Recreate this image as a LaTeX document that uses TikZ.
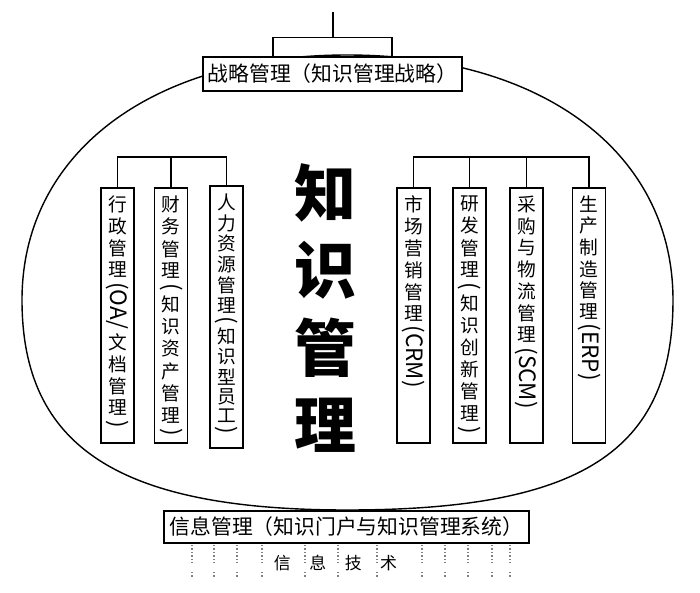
\documentclass[tikz,border=0pt]{standalone}
\usepackage{fontspec}
\setmainfont{Noto Sans CJK SC}
\usepackage{graphicx}
\usepackage{tikz}
\usetikzlibrary{calc}

\newcommand{\hx}[1]{\rotatebox{-90}{\fontsize{16pt}{16pt}\selectfont #1}}
\newcommand{\shu}[3]{\parbox[c][#1][s]{0.83cm}{\centering\fontsize{13.3pt}{13.3pt}\selectfont
  \baselineskip=0pt\lineskip=0pt plus 1fil\lineskiplimit=0pt\vspace*{0.2cm}#3\par\vspace*{#2}}}

\begin{document}
\begin{tikzpicture}[x=0.025cm, y=-0.025cm,
  kuang/.style={draw, line width=1.1pt, fill=white, inner sep=0pt, font=\fontsize{14.8pt}{14.8pt}\selectfont},
  tiao/.style={draw, line width=1.1pt, fill=white, inner sep=0pt, anchor=north},
  lian/.style={line width=1pt},
  dianxian/.style={gray, line width=1.1pt, dash pattern=on 1pt off 1.4pt}]
            \useasboundingbox (0,0) rectangle (700,593);
            % the big round
            \draw [line width=1pt] (22,300) .. controls (22,153) and (152,55) .. (347,55)
                .. controls (543,55) and (673,153) .. (673,300)
                .. controls (673,452) and (580,510) .. (347,510)
                .. controls (119,510) and (22,447) .. (22,300);
            \node[kuang, minimum width=6.475cm, minimum height=0.85cm] (zl) at (332.5,74) {战略管理（知识管理战略）};
            \node[kuang, minimum width=9.125cm, minimum height=0.8cm] (xx) at (346.5,527) {信息管理（知识门户与知识管理系统）};
            \coordinate (ding) at (333,12);
            \draw [lian] (ding) -- ++(0,26);
            \draw [lian] ($(zl.north)+(-59.5,0)$) -- ++(0,-19) -- ++(119,0) -- ++(0,19);
            % left
            \node[tiao] (xz) at (117.5,187) {\shu{6.375cm}{0.375cm}{行\\政\\管\\理\\\hx{(OA/}\\文\\档\\管\\理\\\hx{)}}};
            \node[tiao] (cw) at (171,187) {\shu{6.375cm}{0.175cm}{财\\务\\管\\理\\\hx{(}\\知\\识\\资\\产\\管\\理\\\hx{)}}};
            \node[tiao] (rl) at (226.5,185) {\shu{6.55cm}{0.35cm}{人\\力\\资\\源\\管\\理\\\hx{(}\\知\\识\\型\\员\\工\\\hx{)}}};
            \draw [lian] (xz.north) |- ($(rl.north)+(0,-28)$) -- (rl.north);
            \draw [lian] (cw.north) -- ++(0,-30);
            % right
            \node[tiao] (sc) at (413.5,187) {\shu{6.375cm}{1.375cm}{市\\场\\营\\销\\管\\理\\\hx{(CRM)}}};
            \node[tiao] (yf) at (469.5,187) {\shu{6.375cm}{0.225cm}{研\\发\\管\\理\\\hx{(}\\知\\识\\创\\新\\管\\理\\\hx{)}}};
            \node[tiao] (cg) at (526.5,187) {\shu{6.375cm}{0.85cm}{采\\购\\与\\物\\流\\管\\理\\\hx{(SCM)}}};
            \node[tiao] (sz) at (589,187) {\shu{6.375cm}{1.55cm}{生\\产\\制\\造\\管\\理\\\hx{(ERP)}}};
            \draw [lian] (sc.north) |- ($(sz.north)+(0,-30)$) -- (sz.north);
            \draw [lian] (yf.north) -- ++(0,-30);
            \draw [lian] (cg.north) -- ++(0,-30);
            % middle
            \node[font=\fontsize{44pt}{55pt}\selectfont\bfseries, align=center] (zs) at (325,308) {知\\识\\管\\理};
            % bottom
            \node[font=\fontsize{12pt}{12pt}\selectfont] (js) at (335.5,563) {信\hspace{1.1em}息\hspace{1.1em}技\hspace{1.1em}术};
            \foreach \x in {192,214,237,262,305,338,377,422,445,468,492,510}
            {\draw [dianxian] (\x,545) -- (\x,563);
             \draw [dianxian] (\x,572) -- (\x,577);}
        \end{tikzpicture}
\end{document}
